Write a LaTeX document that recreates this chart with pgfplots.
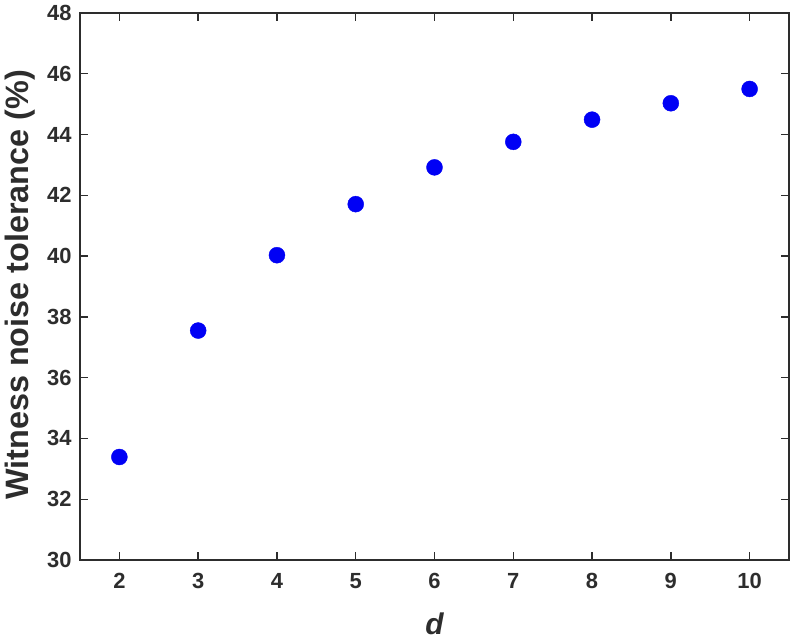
\documentclass[border=0pt]{standalone}
\usepackage{fontspec}
\setmainfont{Liberation Sans}
\usepackage{pgfplots}
\pgfplotsset{compat=1.18}
\definecolor{axgray}{RGB}{45,45,45}
\definecolor{dotblue}{RGB}{0,0,245}
\begin{document}
\begin{tikzpicture}
\begin{axis}[
    name=ax,
    scale only axis,
    width=709bp, height=547bp,
    xmin=1.5, xmax=10.5,
    ymin=30, ymax=48,
    xtick={2,3,4,5,6,7,8,9,10},
    ytick={30,32,34,36,38,40,42,44,46,48},
    tick align=inside,
    major tick length=8bp,
    axis line style={axgray, line width=1.4bp},
    tick style={axgray, line width=1.4bp},
    /pgf/number format/assume math mode=true,
    tick label style={font=\fontsize{22}{22}\selectfont\bfseries, text=axgray},
    xticklabel style={yshift=-10bp},
    yticklabel style={xshift=-5bp},
    xlabel={\itshape d},
    ylabel={Witness noise tolerance (\%)},
    xlabel style={font=\fontsize{30}{30}\selectfont\bfseries, text=axgray,
        at={(axis description cs:0.5,-0.136)}, anchor=base},
    ylabel style={font=\fontsize{32.5}{32.5}\selectfont\bfseries, text=axgray,
        at={(axis description cs:-0.0846,0.503)}, anchor=center, rotate=0},
]
\addplot[only marks, mark=*, mark size=8bp, color=dotblue, mark options={fill=dotblue, draw=dotblue}]
coordinates {
(2,33.39)(3,37.55)(4,40.03)(5,41.71)(6,42.92)(7,43.76)(8,44.49)(9,45.03)(10,45.50)
};
\end{axis}
\pgfresetboundingbox
\useasboundingbox ([shift={(-80bp,-81bp)}]ax.south west) rectangle ([shift={(8bp,13bp)}]ax.north east);
\end{tikzpicture}
\end{document}
